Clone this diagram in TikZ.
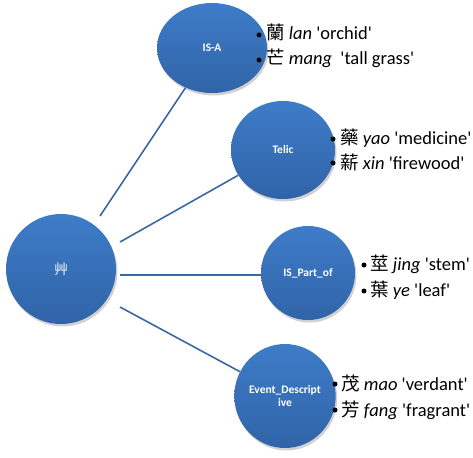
\documentclass[tikz,border=0pt]{standalone}
\usepackage{fontspec}
\setmainfont{Carlito}
\newfontfamily\cjk{Noto Sans CJK TC}
\usetikzlibrary{shapes.geometric,shadows}
\definecolor{nodetop}{RGB}{62,124,200}
\definecolor{nodebot}{RGB}{48,100,168}
\definecolor{linkcol}{RGB}{59,103,162}
\newcommand{\sq}{\textquotesingle}
\tikzset{
  concept/.style={ellipse, inner sep=0pt, draw=none, top color=nodetop, bottom color=nodebot,
    text=white, font=\bfseries\fontsize{11.5}{12.5}\selectfont, align=center,
    drop shadow={shadow xshift=1.5pt, shadow yshift=-2.5pt, opacity=0.18, fill=black}},
  link/.style={draw=linkcol, line width=1.6pt},
  itemtext/.style={anchor=base west, inner sep=0pt, font=\fontsize{18.5}{20}\selectfont},
  dot/.style={circle, fill=black, inner sep=0pt, minimum size=5pt}
}
\begin{document}
\begin{tikzpicture}[x=1pt,y=-1pt]
\useasboundingbox (0,0) rectangle (473,457);
% concept nodes
\node[concept, minimum width=110pt, minimum height=110pt] (grass) at (61,269) {\cjk\mdseries\fontsize{14}{14}\selectfont 艸};
\node[concept, minimum width=110pt, minimum height=90pt] (isa) at (212,48) {IS-A};
\node[concept, minimum width=104pt, minimum height=98pt] (telic) at (283,150) {Telic};
\node[concept, minimum width=94pt, minimum height=94pt] (part) at (308,273) {IS\_Part\_of};
\node[concept, minimum width=98pt, minimum height=104pt] (event) at (285,396) {Event\_Descript\\ive};
% connectors
\coordinate (s1) at (100,216);
\coordinate (s2) at (120,242);
\coordinate (s3) at (120,275);
\coordinate (s4) at (120,307);
\draw[link] (s1) -- (isa);
\draw[link] (s2) -- (telic);
\draw[link] (s3) -- (part.west |- s3);
\draw[link] (s4) -- (event);
% IS-A items
\node[dot] (b1) at (259,35) {};
\node[itemtext] (t1) at (266,40) {{\cjk 蘭} \textit{lan} \sq orchid\sq};
\node[dot] (b2) at (259,60) {};
\node[itemtext] (t2) at (266,65) {{\cjk 芒} \textit{mang}\ \ \sq tall grass\sq};
% Telic items
\node[dot] (b3) at (333,139) {};
\node[itemtext] (t3) at (340,145) {{\cjk 藥} \textit{yao} \sq medicine\sq};
\node[dot] (b4) at (333,163) {};
\node[itemtext] (t4) at (340,169) {{\cjk 薪} \textit{xin} \sq firewood\sq};
% IS_Part_of items
\node[dot] (b5) at (364,265) {};
\node[itemtext] (t5) at (370,270) {{\cjk 莖} \textit{jing} \sq stem\sq};
\node[dot] (b6) at (364,291) {};
\node[itemtext] (t6) at (370,296) {{\cjk 葉} \textit{ye} \sq leaf\sq};
% Event items
\node[dot] (b7) at (335,384) {};
\node[itemtext] (t7) at (341,390) {{\cjk 茂} \textit{mao} \sq verdant\sq};
\node[dot] (b8) at (335,410) {};
\node[itemtext] (t8) at (341,416) {{\cjk 芳} \textit{fang} \sq fragrant\sq};
\end{tikzpicture}
\end{document}
